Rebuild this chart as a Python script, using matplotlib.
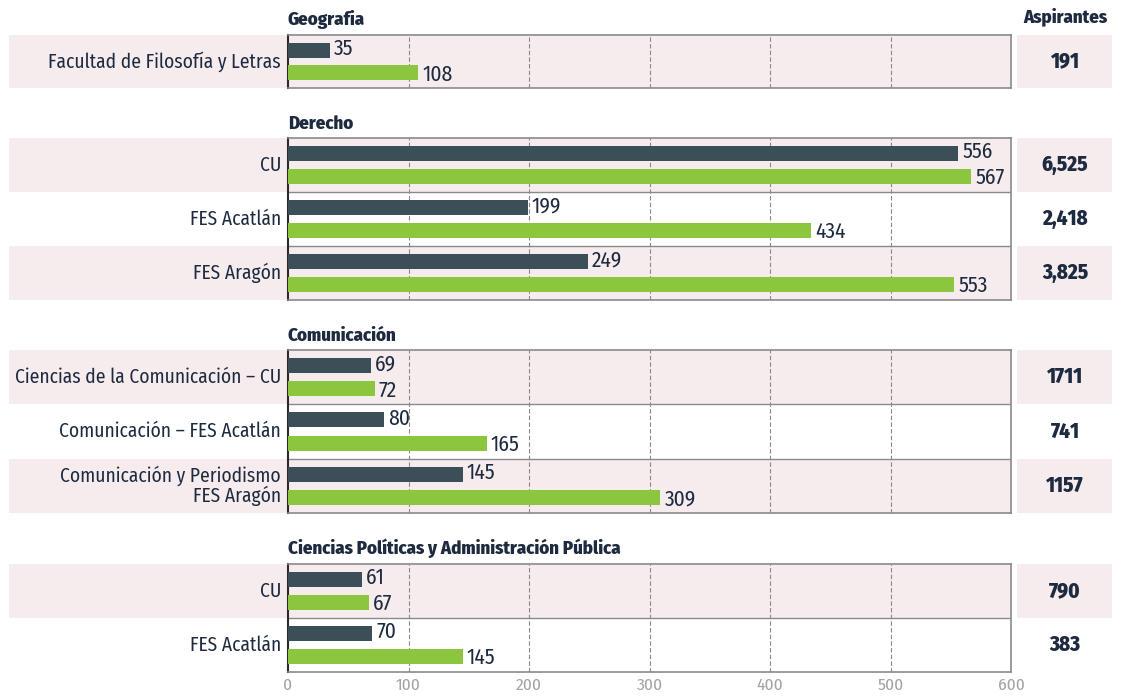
import matplotlib
matplotlib.use("Agg")
import matplotlib.pyplot as plt
import matplotlib.transforms as mtransforms
from matplotlib.patches import Rectangle

# --- datos ---
grupos = ["Geografia", "Derecho", "Comunicación",
          "Ciencias Políticas y Administración Pública"]
planteles = ["Facultad de Filosofía y Letras",
             "CU", "FES Acatlán", "FES Aragón",
             "Ciencias de la Comunicación – CU",
             "Comunicación – FES Acatlán",
             "Comunicación y Periodismo\nFES Aragón",
             "CU", "FES Acatlán"]
grupo_de = [0, 1, 1, 1, 2, 2, 2, 3, 3]
serie_a = [35, 556, 199, 249, 69, 80, 145, 61, 70]
serie_b = [108, 567, 434, 553, 72, 165, 309, 67, 145]
aspirantes = ["191", "6,525", "2,418", "3,825", "1711", "741", "1157", "790", "383"]
ticks_x = [0, 100, 200, 300, 400, 500, 600]

# --- estilo ---
W, H = 1126, 696
OSCURO = "#3c4f59"
VERDE = "#8cc63f"
ROSA = "#f6eced"
TEXTO = "#1d2a3f"
GRIS = "#8a8a8a"
plt.rcParams["font.family"] = ["Fira Sans Condensed", "Barlow Semi Condensed", "DejaVu Sans"]

# cajas de cada grupo en pixeles (arriba, abajo)
cajas = [(35, 88), (138, 300), (350, 513), (564, 672)]
X0, X1 = 288, 1011

fig = plt.figure(figsize=(W / 100, H / 100), dpi=100)
fig.patch.set_facecolor("white")

for g, titulo in enumerate(grupos):
    top, bot = cajas[g]
    ax = fig.add_axes([X0 / W, 1 - bot / H, (X1 - X0) / W, (bot - top) / H])
    idx = [i for i, gg in enumerate(grupo_de) if gg == g]
    n = len(idx)
    ax.set_xlim(0, 600)
    ax.set_ylim(n, 0)
    blend = mtransforms.blended_transform_factory(fig.transFigure, ax.transData)

    for k, i in enumerate(idx):
        if k % 2 == 0:
            ax.axhspan(k, k + 1, color=ROSA, zorder=0, lw=0)
            ax.add_patch(Rectangle((9 / W, k), (X0 - 9) / W, 1, transform=blend,
                                   color=ROSA, lw=0, clip_on=False, zorder=0))
            ax.add_patch(Rectangle((1017 / W, k), (1112 - 1017) / W, 1, transform=blend,
                                   color=ROSA, lw=0, clip_on=False, zorder=0))
        yc = k + 0.5
        ya, yb = yc - 0.215, yc + 0.215
        ax.barh(ya, serie_a[i], height=0.28, color=OSCURO, zorder=3)
        ax.barh(yb, serie_b[i], height=0.28, color=VERDE, zorder=3)
        ax.annotate(str(serie_a[i]), (serie_a[i], ya), xytext=(3, 1),
                    textcoords="offset points", va="center", ha="left",
                    fontsize=15.5, color=TEXTO, zorder=4, annotation_clip=False)
        ax.annotate(str(serie_b[i]), (serie_b[i], yb), xytext=(3, -1),
                    textcoords="offset points", va="center", ha="left",
                    fontsize=15.5, color=TEXTO, zorder=4, annotation_clip=False)
        ax.text((X0 - 7) / W, yc, planteles[i], transform=blend, ha="right",
                va="center", fontsize=14, color=TEXTO, linespacing=0.95)
        ax.text(1065 / W, yc, aspirantes[i], transform=blend, ha="center",
                va="center", fontsize=15, fontweight="heavy", color=TEXTO)
        if k > 0:
            ax.axhline(k, color=GRIS, lw=1.0, zorder=2)

    for t in ticks_x[1:-1]:
        ax.axvline(t, color=GRIS, lw=0.8, ls=(0, (4, 2)), zorder=1)

    for s in ["top", "right", "bottom"]:
        ax.spines[s].set_color(GRIS)
        ax.spines[s].set_linewidth(1.2)
    ax.spines["left"].set_color("#2a2a2a")
    ax.spines["left"].set_linewidth(1.5)
    ax.set_yticks([])
    ax.set_facecolor("none")

    ax.annotate(titulo, (0, 1), xycoords="axes fraction", xytext=(0, 4),
                textcoords="offset points", ha="left", va="bottom",
                fontsize=13.5, fontweight="heavy", color=TEXTO)

    if g == len(grupos) - 1:
        ax.set_xticks(ticks_x)
        ax.tick_params(axis="x", length=0, pad=4, labelsize=12.5, labelcolor="#a3a3a3")
    else:
        ax.set_xticks([])

fig.text(1065 / W, 1 - 17 / H, "Aspirantes", ha="center", va="center",
         fontsize=13.5, fontweight="heavy", color=TEXTO)

fig.savefig("out.png", dpi=100)
